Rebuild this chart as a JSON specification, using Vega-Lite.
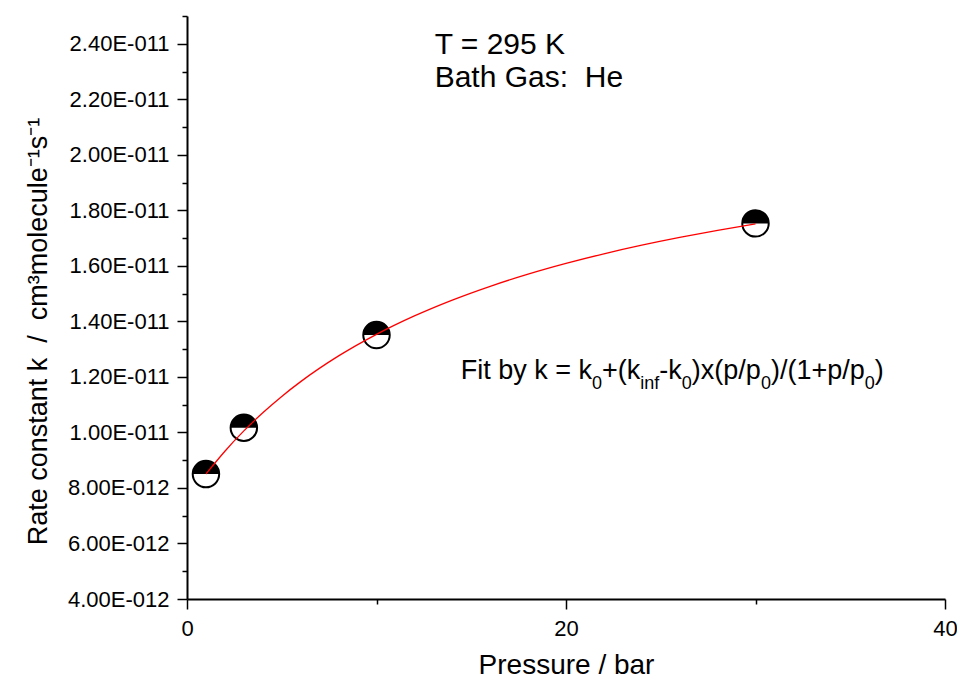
{
  "$schema": "https://vega.github.io/schema/vega-lite/v6.json",
  "autosize": {"type": "none"},
  "padding": {"left": 187, "top": 16, "right": 12, "bottom": 80},
  "width": 758,
  "height": 583,
  "background": "white",
  "config": {
    "view": {"stroke": null},
    "font": "Liberation Sans",
    "axis": {
      "grid": false,
      "domainColor": "black",
      "domainWidth": 2,
      "tickColor": "black",
      "tickWidth": 1.5,
      "labelFont": "Liberation Sans",
      "labelColor": "black",
      "labelFontSize": 22,
      "titleFont": "Liberation Sans",
      "titleColor": "black",
      "titleFontWeight": "normal"
    },
    "text": {"font": "Liberation Sans", "color": "black"}
  },
  "datasets": {
    "measured": [
      {"p": 1, "k": 8.5e-12},
      {"p": 3, "k": 1.017e-11},
      {"p": 10, "k": 1.351e-11},
      {"p": 30, "k": 1.753e-11}
    ],
    "fit": [
      {"p": 1, "k": 8.502e-12},
      {"p": 2, "k": 9.324e-12},
      {"p": 3, "k": 1.0055e-11},
      {"p": 4, "k": 1.0709e-11},
      {"p": 5, "k": 1.1298e-11},
      {"p": 6, "k": 1.183e-11},
      {"p": 8, "k": 1.2756e-11},
      {"p": 10, "k": 1.3534e-11},
      {"p": 12, "k": 1.4197e-11},
      {"p": 14, "k": 1.4768e-11},
      {"p": 16, "k": 1.5265e-11},
      {"p": 18, "k": 1.5703e-11},
      {"p": 20, "k": 1.609e-11},
      {"p": 22, "k": 1.6435e-11},
      {"p": 24, "k": 1.6745e-11},
      {"p": 26, "k": 1.7025e-11},
      {"p": 28, "k": 1.7279e-11},
      {"p": 30, "k": 1.751e-11}
    ],
    "header": [
      {"p": 13.07, "k": 2.3631e-11, "text": "T = 295 K"},
      {"p": 13.07, "k": 2.244e-11, "text": "Bath Gas:\u00a0 He"}
    ],
    "formula": [
      {"p": 14.44, "k": 1.1924e-11, "text": "Fit by k = k"},
      {"p": 21.901, "k": 1.1924e-11, "text": "+(k"},
      {"p": 24.926, "k": 1.1924e-11, "text": "-k"},
      {"p": 26.642, "k": 1.1924e-11, "text": ")x(p/p"},
      {"p": 30.813, "k": 1.1924e-11, "text": ")/(1+p/p"},
      {"p": 36.294, "k": 1.1924e-11, "text": ")"}
    ],
    "subscripts": [
      {"p": 21.373, "k": 1.1924e-11, "text": "0"},
      {"p": 23.923, "k": 1.1924e-11, "text": "inf"},
      {"p": 26.114, "k": 1.1924e-11, "text": "0"},
      {"p": 30.285, "k": 1.1924e-11, "text": "0"},
      {"p": 35.766, "k": 1.1924e-11, "text": "0"}
    ]
  },
  "resolve": {"axis": {"x": "independent", "y": "independent"}},
  "layer": [
    {
      "data": {"name": "measured"},
      "mark": {"type": "point", "shape": "circle", "filled": true, "fill": "white", "stroke": "black", "strokeWidth": 2, "size": 700, "opacity": 1},
      "encoding": {
        "x": {
          "field": "p", "type": "quantitative",
          "scale": {"domain": [0, 40], "nice": false, "zero": false},
          "axis": {
            "orient": "bottom",
            "values": [0, 20, 40],
            "format": "d",
            "tickSize": 10,
            "labelPadding": 9,
            "labelFlush": false,
            "title": "Pressure / bar",
            "titleFontSize": 28,
            "titleBaseline": "alphabetic",
            "titleY": 74,
            "titleX": 379
          }
        },
        "y": {
          "field": "k", "type": "quantitative",
          "scale": {"domain": [4e-12, 2.5e-11], "nice": false, "zero": false},
          "axis": {
            "orient": "left",
            "values": [4e-12, 6e-12, 8e-12, 1e-11, 1.2e-11, 1.4e-11, 1.6e-11, 1.8e-11, 2e-11, 2.2e-11, 2.4e-11],
            "labelExpr": "format(datum.value / pow(10, floor(log(datum.value) / LN10 + 1e-9)), '.2f') + 'E-0' + (-floor(log(datum.value) / LN10 + 1e-9))",
            "tickSize": 10,
            "labelPadding": 8,
            "labelFlush": false,
            "title": "Rate constant k\u00a0 /\u00a0 cm³molecule⁻¹s⁻¹",
            "titleFontSize": 27,
            "titleAngle": -90,
            "titleAlign": "center",
            "titleBaseline": "alphabetic",
            "titleX": -141,
            "titleY": 315
          }
        }
      }
    },
    {
      "data": {"name": "measured"},
      "mark": {"type": "point", "shape": "M -1 0 A 1 1 0 0 1 1 0 Z", "filled": true, "fill": "black", "strokeWidth": 0, "size": 700, "opacity": 1},
      "encoding": {
        "x": {
          "field": "p", "type": "quantitative",
          "axis": {"orient": "bottom", "values": [10, 30], "tickSize": 5, "labels": false, "domain": false, "title": null}
        },
        "y": {
          "field": "k", "type": "quantitative",
          "axis": {"orient": "left", "values": [5e-12, 7e-12, 9e-12, 1.1e-11, 1.3e-11, 1.5e-11, 1.7e-11, 1.9e-11, 2.1e-11, 2.3e-11, 2.5e-11], "tickSize": 5, "labels": false, "domain": false, "title": null}
        }
      }
    },
    {
      "data": {"name": "fit"},
      "mark": {"type": "line", "color": "#ff0000", "strokeWidth": 1.3, "interpolate": "monotone"},
      "encoding": {
        "x": {"field": "p", "type": "quantitative", "axis": null},
        "y": {"field": "k", "type": "quantitative", "axis": null}
      }
    },
    {
      "data": {"name": "header"},
      "mark": {"type": "text", "align": "left", "baseline": "alphabetic", "fontSize": 30},
      "encoding": {
        "x": {"field": "p", "type": "quantitative", "axis": null},
        "y": {"field": "k", "type": "quantitative", "axis": null},
        "text": {"field": "text"}
      }
    },
    {
      "data": {"name": "formula"},
      "mark": {"type": "text", "align": "left", "baseline": "alphabetic", "fontSize": 27},
      "encoding": {
        "x": {"field": "p", "type": "quantitative", "axis": null},
        "y": {"field": "k", "type": "quantitative", "axis": null},
        "text": {"field": "text"}
      }
    },
    {
      "data": {"name": "subscripts"},
      "mark": {"type": "text", "align": "left", "baseline": "alphabetic", "fontSize": 18, "dy": 10},
      "encoding": {
        "x": {"field": "p", "type": "quantitative", "axis": null},
        "y": {"field": "k", "type": "quantitative", "axis": null},
        "text": {"field": "text"}
      }
    }
  ]
}
